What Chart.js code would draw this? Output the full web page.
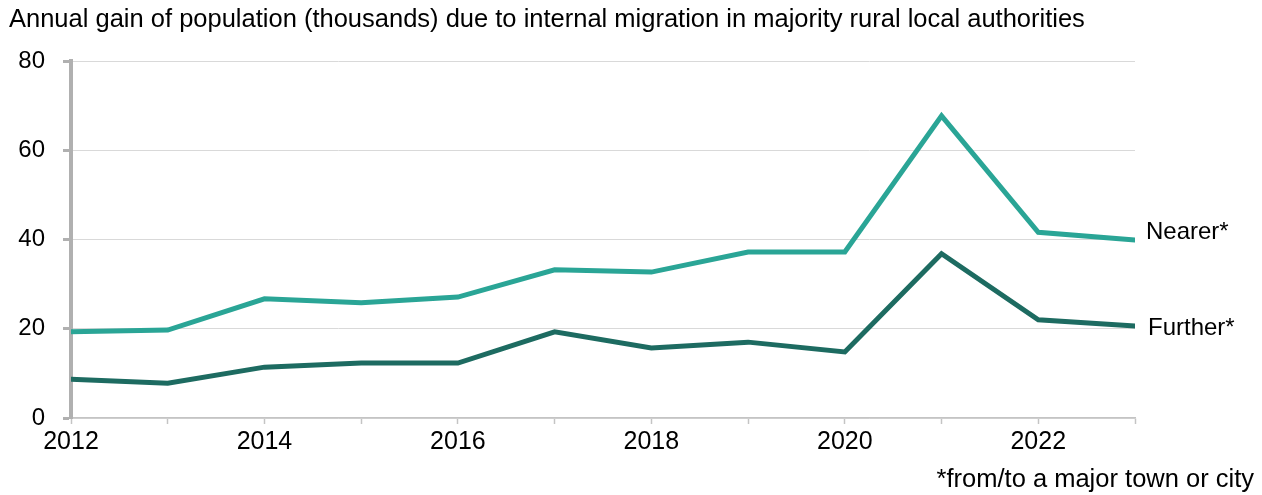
<!DOCTYPE html>
<html lang="en">
<head>
    <meta charset="UTF-8">
    <title>Internal migration in majority rural local authorities</title>
    <script src="https://cdn.jsdelivr.net/npm/chart.js"></script>
    <style>
        html, body { margin: 0; padding: 0; background: #fff; }
        #wrap { width: 1262px; height: 495px; }
    </style>
</head>
<body>
    <div id="wrap"><canvas id="chart" width="1262" height="495"></canvas></div>

    <script>
        // data (thousands)
        const years = [2012, 2013, 2014, 2015, 2016, 2017, 2018, 2019, 2020, 2021, 2022, 2023];
        const nearer = [19.3, 19.7, 26.7, 25.8, 27.1, 33.2, 32.7, 37.2, 37.2, 67.7, 41.6, 39.9];
        const further = [8.7, 7.8, 11.4, 12.3, 12.3, 19.3, 15.7, 17.0, 14.8, 36.8, 22.0, 20.6];
        const seriesNames = ['Nearer*', 'Further*'];
        const yTicks = [0, 20, 40, 60, 80];

        const titleText = 'Annual gain of population (thousands) due to internal migration in majority rural local authorities';
        const footText = '*from/to a major town or city';
        const FONT = 'Arial, "Liberation Sans", sans-serif';

        // title, footnote and end-of-line labels
        const textPlugin = {
            id: 'texts',
            afterDraw(chart) {
                const ctx = chart.ctx;
                ctx.save();
                ctx.fillStyle = '#000';
                ctx.textBaseline = 'middle';
                ctx.font = '25.5px ' + FONT;
                ctx.textAlign = 'left';
                ctx.fillText(titleText, 9, 20);
                ctx.textAlign = 'right';
                ctx.fillText(footText, 1254, 480);
                ctx.font = '24px ' + FONT;
                ctx.textAlign = 'left';
                const offsets = [-8, 2];
                const gaps = [11, 13];
                chart.data.datasets.forEach((ds, i) => {
                    const meta = chart.getDatasetMeta(i);
                    const last = meta.data[meta.data.length - 1];
                    ctx.fillText(ds.label, last.x + gaps[i], last.y + offsets[i]);
                });
                ctx.restore();
            }
        };

        new Chart(document.getElementById('chart'), {
            type: 'line',
            data: {
                datasets: [
                    {
                        label: seriesNames[0],
                        data: years.map((y, i) => ({ x: y, y: nearer[i] })),
                        borderColor: '#2aa596',
                        borderWidth: 5,
                        borderCapStyle: 'round',
                        pointRadius: 0,
                        tension: 0
                    },
                    {
                        label: seriesNames[1],
                        data: years.map((y, i) => ({ x: y, y: further[i] })),
                        borderColor: '#1d6b61',
                        borderWidth: 5,
                        borderCapStyle: 'round',
                        pointRadius: 0,
                        tension: 0
                    }
                ]
            },
            options: {
                responsive: false,
                animation: false,
                layout: { padding: { top: 61, right: 127, left: 0, bottom: 0 } },
                plugins: {
                    legend: { display: false },
                    tooltip: { enabled: false }
                },
                scales: {
                    x: {
                        type: 'linear',
                        min: years[0],
                        max: years[years.length - 1],
                        afterFit(scale) { scale.height = 77; },
                        afterBuildTicks(scale) { scale.ticks = years.map(v => ({ value: v })); },
                        border: { color: '#c4c4c4', width: 1.5 },
                        grid: { drawOnChartArea: false, tickLength: 6, tickColor: '#c4c4c4', tickWidth: 1.5 },
                        ticks: {
                            autoSkip: false,
                            maxRotation: 0,
                            padding: 3,
                            color: '#000',
                            font: { size: 25, family: FONT },
                            callback: v => (v % 2 === 0 ? String(v) : '')
                        }
                    },
                    y: {
                        min: 0,
                        max: 80,
                        afterFit(scale) { scale.width = 71; },
                        afterBuildTicks(scale) { scale.ticks = yTicks.map(v => ({ value: v })); },
                        border: { color: '#b0b0b0', width: 4 },
                        grid: { color: '#d9d9d9', lineWidth: 1, tickLength: 8, tickColor: '#b0b0b0', tickWidth: 3 },
                        ticks: {
                            padding: 18,
                            color: '#000',
                            font: { size: 24, family: FONT }
                        }
                    }
                }
            },
            plugins: [textPlugin]
        });
    </script>
</body>
</html>
